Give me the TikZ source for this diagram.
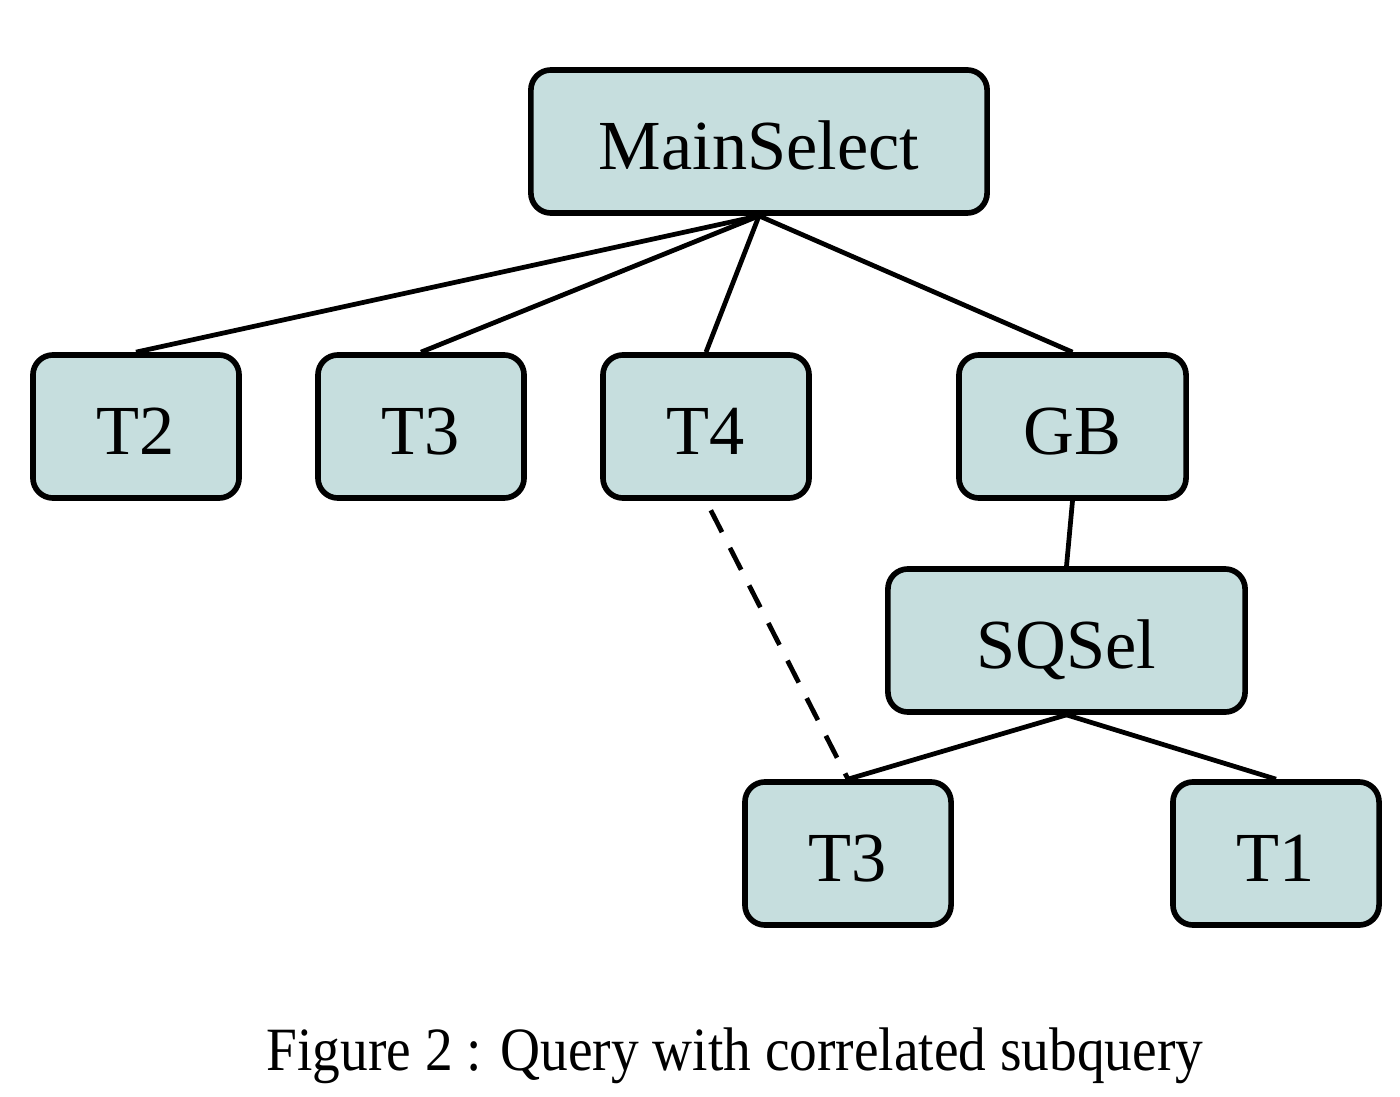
\documentclass[tikz,border=0pt]{standalone}
\usepackage{fontspec}
\setmainfont{Liberation Serif}
\usepackage{graphicx}
\definecolor{boxfill}{HTML}{C6DEDE}

\begin{document}
\begin{tikzpicture}[x=0.01cm, y=-0.01cm,
      op/.style={rectangle, rounded corners=20pt*0.2845, draw=black,
                 fill=boxfill, line width=1.6pt, minimum height=143*0.2845pt,
                 inner sep=0pt, text height=16.2pt, text depth=0pt,
                 font=\fontsize{20}{24}\selectfont},
      leaf/.style={op, minimum width=206*0.2845pt},
      edge/.style={line width=1.35pt, black},
      corr/.style={edge, dash pattern=on 7pt off 5pt, shorten <=3pt},
    ]
    \useasboundingbox (0,0) rectangle (1400,1097);

    % Main query
    \node[op, minimum width=456*0.2845pt] (main) at (759, 141.5) {MainSelect};

    \node[leaf] (t2) at (136, 426.5) {T2};
    \node[leaf] (t3) at (421, 426.5) {T3};
    \node[leaf] (t4) at (706, 426.5) {T4};
    \node[op, minimum width=227*0.2845pt] (gb) at (1072.5, 426.5) {GB};

    % Subquery
    \node[op, minimum width=357*0.2845pt] (sq) at (1066.5, 640.5) {SQSel};
    \node[leaf] (t3s) at (848, 853.5) {T3};
    \node[leaf] (t1) at (1276, 853.5) {T1};

    % Edges
    \foreach \c in {t2, t3, t4, gb}
      \draw[edge] (main.south) -- (\c.north);
    \draw[edge] (gb.south) -- (sq.north);
    \draw[edge] (sq.south) -- (t3s.north);
    \draw[edge] (sq.south) -- (t1.north);

    % Correlation
    \draw[corr] (t4.south) -- (t3s.north);

    \node (cap) at (735, 1056)
      {\scalebox{0.9}[1]{\fontsize{17.5}{21}\selectfont Figure 2 : Query with correlated subquery}};

  \end{tikzpicture}
\end{document}
